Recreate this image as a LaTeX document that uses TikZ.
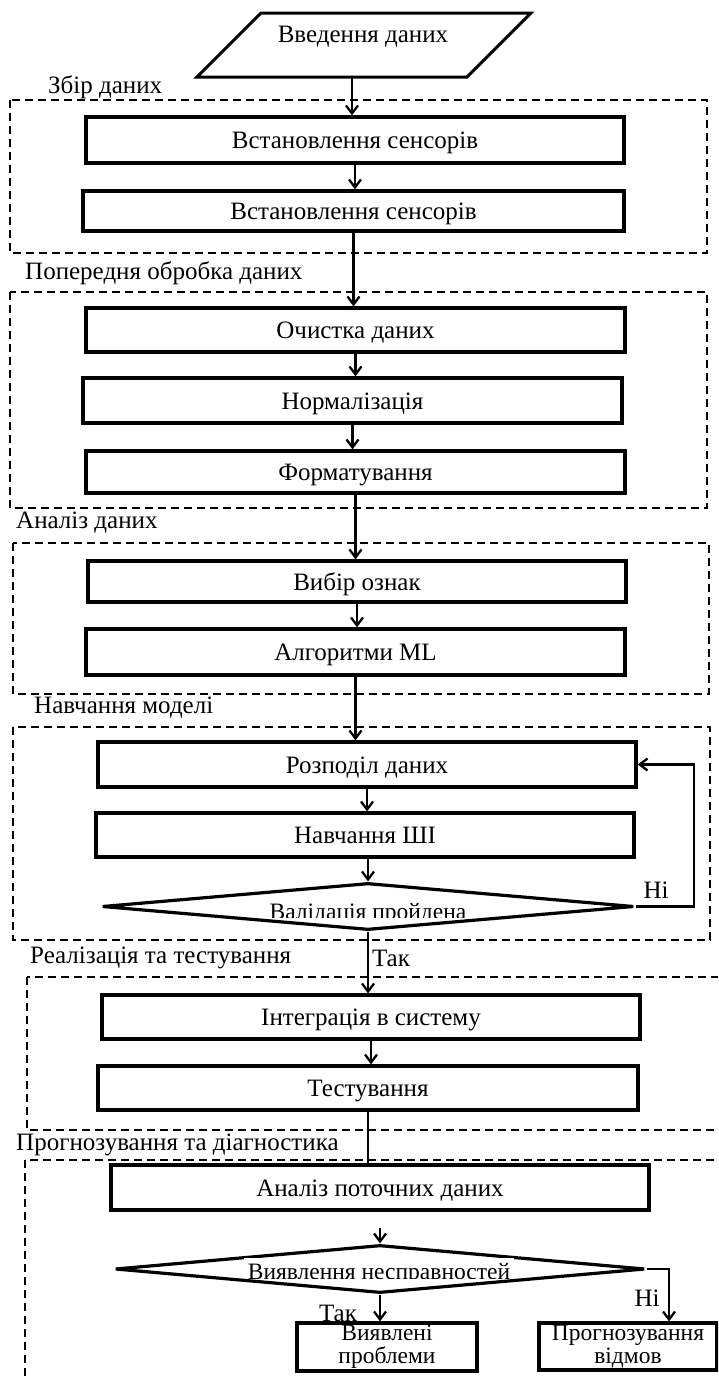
\documentclass[tikz,border=0pt]{standalone}
\usepackage{fontspec}
\setmainfont{Liberation Serif}
\usetikzlibrary{arrows.meta,shapes.geometric}
\begin{document}
\begin{tikzpicture}[x=1pt,y=-1pt,
  font=\fontsize{25}{22}\selectfont,
  pbox/.style={draw, line width=3.2pt, rectangle, inner sep=0pt, text height=17pt, text depth=0pt},
  pbox2/.style={draw, line width=3.2pt, rectangle, inner sep=0pt, align=center, font=\fontsize{23.5}{23}\selectfont},
  grp/.style={draw, line width=2.3pt, dash pattern=on 8pt off 5pt},
  grplabel/.style={anchor=west, inner sep=0pt},
  arr/.style={line width=2.3pt, -{Straight Barb[length=8pt,width=12pt]}},
  conn/.style={line width=2.3pt},
  dec/.style={diamond, draw, line width=3.2pt, inner sep=0pt},
  dectext/.style={inner sep=0pt, anchor=base, font=\fontsize{23.5}{22}\selectfont},
  lbl/.style={inner sep=0pt}
]
\clip (0,0) rectangle (718,1376);

% input parallelogram
\draw[line width=3pt, line join=miter] (261,13) -- (531,13) -- (467,77) -- (197,77) -- cycle;
\node[lbl] (inp) at (363,37) {Введення даних};
\coordinate (inb) at (352,77);

% group frames
\draw[grp] (10,100) rectangle (707,253);
\node[grplabel] (lA) at (48,87) {Збір даних};
\draw[grp] (10,292) rectangle (707,508);
\node[grplabel] (lB) at (25,273) {Попередня обробка даних};
\draw[grp] (13,543) rectangle (709,694);
\node[grplabel] (lC) at (16,523) {Аналіз даних};
\draw[grp] (13,727) rectangle (710,940);
\node[grplabel] (lD) at (34,708) {Навчання моделі};
\draw[grp] (27,977) rectangle (740,1130);
\node[grplabel] (lE) at (30,958) {Реалізація та тестування};
\draw[grp] (25,1160) rectangle (740,1420);
\node[grplabel] (lF) at (16,1145) {Прогнозування та діагностика};

% process boxes
\node[pbox, minimum width=538pt, minimum height=46pt] (b1) at (355,140) {Встановлення сенсорів};
\node[pbox, minimum width=541pt, minimum height=40pt] (b2) at (353.5,211) {Встановлення сенсорів};
\node[pbox, minimum width=539pt, minimum height=44pt] (c1) at (355.5,330) {Очистка даних};
\node[pbox, minimum width=539pt, minimum height=45pt] (c2) at (352.5,400.5) {Нормалізація};
\node[pbox, minimum width=539pt, minimum height=42pt] (c3) at (355.5,472) {Форматування};
\node[pbox, minimum width=538pt, minimum height=41pt] (d1) at (357,581.5) {Вибір ознак};
\node[pbox, minimum width=539pt, minimum height=46pt] (d2) at (355.5,652) {Алгоритми ML};
\node[pbox, minimum width=538pt, minimum height=45pt] (e1) at (367,764.5) {Розподіл даних};
\node[pbox, minimum width=538pt, minimum height=44pt] (e2) at (365,835) {Навчання ШІ};
\node[dec, minimum width=532pt, minimum height=47pt] (e3) at (368,906.5) {};
\node[pbox, minimum width=538pt, minimum height=44pt] (f1) at (371,1017) {Інтеграція в систему};
\node[pbox, minimum width=540pt, minimum height=44pt] (f2) at (368,1088) {Тестування};
\node[pbox, minimum width=538pt, minimum height=45pt] (g1) at (380,1187.5) {Аналіз поточних даних};
\node[dec, minimum width=530pt, minimum height=48pt] (g2) at (380,1269) {};
\node[pbox2, minimum width=180pt, minimum height=48pt] (g3) at (387,1347) {Виявлені\\проблеми};
\node[pbox2, minimum width=178pt, minimum height=47pt] (g4) at (628,1346.5) {Прогнозування\\відмов};

% decision texts (clipped, on white)
\begin{scope}
  \clip (256,895.5) rectangle (480,917.5);
  \fill[white] (256,895.5) rectangle (480,917.5);
  \node[dectext] (e3t) at (368,919.5) {Валідація пройдена};
\end{scope}
\begin{scope}
  \clip (244,1258) rectangle (514,1278);
  \fill[white] (244,1258) rectangle (514,1278);
  \node[dectext] (g2t) at (379,1279.5) {Виявлення несправностей};
\end{scope}

% connectors
\draw[arr] (inb) -- (inb |- b1.north);
\draw[arr] (b1.south) -- (b1.south |- b2.north);
\draw[arr] (b2.south) -- (b2.south |- c1.north);
\draw[arr] (c1.south) -- (c1.south |- c2.north);
\draw[arr] (c2.south) -- (c2.south |- c3.north);
\draw[arr] (c3.south) -- (c3.south |- d1.north);
\draw[arr] (d1.south) -- (d1.south |- d2.north);
\draw[arr] (d2.south) -- (d2.south |- e1.north);
\draw[arr] (e1.south) -- (e1.south |- e2.north);
\draw[arr] (e3.north |- e2.south) -- (e3.north);
\draw[arr] (e3.south) -- (e3.south |- f1.north);
\draw[arr] (f1.south) -- (f1.south |- f2.north);
\draw[conn] (f2.south) -- (f2.south |- g1.north);
\coordinate (gs) at (380,1228);
\draw[arr] (gs) -- (g2.north);
\draw[arr] (g2.south) -- (g2.south |- g3.north);
\coordinate (fb) at (694,0);
\draw[arr] (e3.east) -- (e3.east -| fb) |- (e1.east);
\coordinate (rb) at (669,0);
\draw[arr] (g2.east) -- (g2.east -| rb) -- (rb |- g4.north);

% branch labels
\node[lbl] (ni1) at (656,890) {Ні};
\node[lbl] (tak1) at (391,958) {Так};
\node[lbl] (ni2) at (647,1298) {Ні};
\node[lbl] (tak2) at (338,1313) {Так};
\end{tikzpicture}
\end{document}
